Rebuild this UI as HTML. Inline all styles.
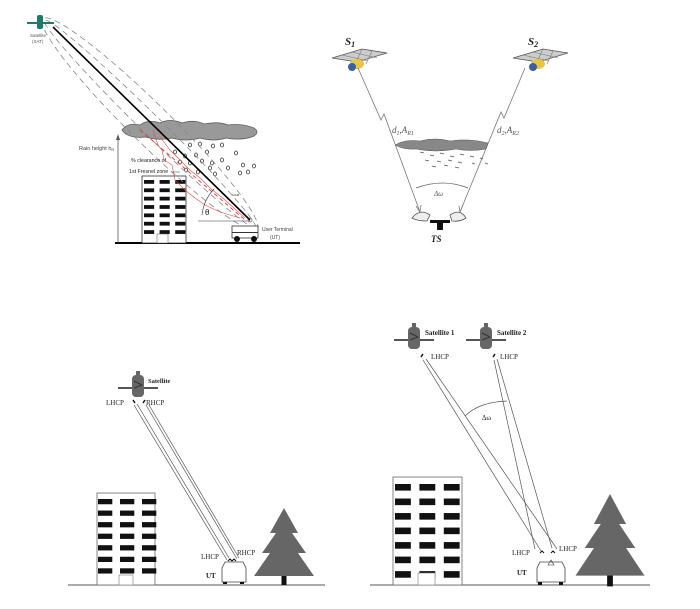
<!DOCTYPE html>
<html><head><meta charset="utf-8"><style>html,body{margin:0;padding:0;background:#fff}svg{display:block}</style></head>
<body>
<svg width="700" height="609" viewBox="0 0 700 609" xmlns="http://www.w3.org/2000/svg" font-family="Liberation Serif, serif">
<defs>
<g id="win3x7">
 <rect x="0" y="0" width="13" height="5"/><rect x="20" y="0" width="13" height="5"/><rect x="40" y="0" width="13" height="5"/>
 <rect x="0" y="11" width="13" height="5"/><rect x="20" y="11" width="13" height="5"/><rect x="40" y="11" width="13" height="5"/>
 <rect x="0" y="22" width="13" height="5"/><rect x="20" y="22" width="13" height="5"/><rect x="40" y="22" width="13" height="5"/>
 <rect x="0" y="33" width="13" height="5"/><rect x="20" y="33" width="13" height="5"/><rect x="40" y="33" width="13" height="5"/>
 <rect x="0" y="44" width="13" height="5"/><rect x="20" y="44" width="13" height="5"/><rect x="40" y="44" width="13" height="5"/>
 <rect x="0" y="55" width="13" height="5"/><rect x="20" y="55" width="13" height="5"/><rect x="40" y="55" width="13" height="5"/>
 <rect x="0" y="66" width="13" height="5"/><rect x="20" y="66" width="13" height="5"/><rect x="40" y="66" width="13" height="5"/>
</g>
<g id="gsat">
 <rect x="-20" y="14" width="40" height="2" fill="#555"/>
 <rect x="-6" y="2" width="12" height="22" rx="4" fill="#666"/>
 <rect x="-2" y="-2" width="4" height="5" fill="#666"/>
 <path d="M-4 8 l8 4 M-4 15 l8 -3" stroke="#333"/>
</g>
<g id="ssat">
 <polygon points="0,14 30,5 55,9 25,18" fill="#ccc" stroke="#555" stroke-width="0.8"/>
 <path d="M10 11 l26 6 M20 8 l25 6 M30 5 l-6 13 M40 7 l-6 13" stroke="#777" stroke-width="0.6"/>
 <ellipse cx="25" cy="20" rx="7" ry="5" fill="#e8c640"/>
 <circle cx="20" cy="23" r="4" fill="#3a5fa5"/>
</g>
<g id="tree">
 <rect x="-2.5" y="55" width="5" height="22" fill="#111"/>
 <polygon points="0,0 14,25 8,25 22,45 14,45 30,68 -30,68 -14,45 -22,45 -8,25 -14,25" fill="#666"/>
</g>
</defs>

<!-- ===== Quadrant 1 ===== -->
<line x1="115" y1="243" x2="300" y2="243" stroke="#000" stroke-width="2"/>
<line x1="118" y1="243" x2="118" y2="137" stroke="#555" stroke-width="0.8"/>
<polygon points="118,134 116,140 120,140" fill="#555"/>
<text x="79" y="150" font-family="Liberation Sans, sans-serif" font-size="5.5" fill="#444">Rain height h<tspan font-size="4" dy="1">R</tspan></text>
<!-- building -->
<rect x="142" y="176" width="44" height="67" fill="#fff" stroke="#333" stroke-width="0.8"/>
<g fill="#111" transform="translate(144,180) scale(0.78,0.76)"><use href="#win3x7"/></g>
<rect x="157" y="234" width="11" height="9" fill="#fff" stroke="#555" stroke-width="0.5"/>
<!-- cloud -->
<path d="M122 130 q6 -8 18 -5 q8 -6 20 -2 q10 -5 22 0 q12 -4 22 1 q14 -3 24 1 q14 -2 26 3 q6 4 0 8 q-12 5 -28 2 q-12 4 -26 0 q-14 4 -28 0 q-14 3 -26 -1 q-18 2 -24 -7z" fill="#999" stroke="#555" stroke-width="0.7"/>
<!-- rain -->
<g fill="none" stroke="#333" stroke-width="0.8">
 <ellipse cx="190" cy="145" rx="1.5" ry="2"/><ellipse cx="200" cy="144" rx="1.5" ry="2"/><ellipse cx="213" cy="146" rx="1.5" ry="2"/><ellipse cx="222" cy="145" rx="1.5" ry="2"/>
 <ellipse cx="175" cy="152" rx="1.5" ry="2"/><ellipse cx="185" cy="156" rx="1.5" ry="2"/><ellipse cx="196" cy="155" rx="1.5" ry="2"/><ellipse cx="207" cy="152" rx="1.5" ry="2"/><ellipse cx="236" cy="153" rx="1.5" ry="2"/>
 <ellipse cx="180" cy="162" rx="1.5" ry="2"/><ellipse cx="190" cy="163" rx="1.5" ry="2"/><ellipse cx="202" cy="161" rx="1.5" ry="2"/><ellipse cx="212" cy="163" rx="1.5" ry="2"/><ellipse cx="222" cy="160" rx="1.5" ry="2"/>
 <ellipse cx="186" cy="170" rx="1.5" ry="2"/><ellipse cx="198" cy="172" rx="1.5" ry="2"/><ellipse cx="210" cy="168" rx="1.5" ry="2"/><ellipse cx="228" cy="168" rx="1.5" ry="2"/><ellipse cx="243" cy="165" rx="1.5" ry="2"/>
 <ellipse cx="215" cy="174" rx="1.5" ry="2"/><ellipse cx="240" cy="173" rx="1.5" ry="2"/><ellipse cx="254" cy="166" rx="1.5" ry="2"/><ellipse cx="248" cy="172" rx="1.5" ry="2"/>
</g>
<!-- fresnel dashed ellipses -->
<g fill="none" stroke="#888" stroke-width="0.8" stroke-dasharray="6,4">
 <ellipse cx="150" cy="124" rx="150" ry="20" transform="rotate(44.5 150 124)"/>
 <ellipse cx="150" cy="124" rx="148" ry="10" transform="rotate(44.5 150 124)"/>
</g>
<line x1="53" y1="27" x2="250" y2="220" stroke="#000" stroke-width="1.6"/>
<line x1="140" y1="130" x2="245" y2="220" stroke="#e33" stroke-width="0.9" stroke-dasharray="4,3"/>
<polyline points="153,130 158,145 162,150 164,160 172,165 175,180 185,190 195,198 205,205 220,212 240,218" fill="none" stroke="#e44" stroke-width="0.6"/>
<polyline points="160,137 170,150 178,158 190,170 200,178 210,188 225,200 245,218" fill="none" stroke="#e44" stroke-width="0.6"/>
<path d="M202 215 a45 45 0 0 1 12 -26" fill="none" stroke="#333" stroke-width="0.6"/>
<line x1="198" y1="221" x2="250" y2="221" stroke="#333" stroke-width="0.5"/>
<text x="205" y="215" font-family="Liberation Sans, sans-serif" font-size="8" fill="#222">θ</text>
<text x="232" y="196" font-family="Liberation Sans, sans-serif" font-size="3.5" fill="#333">ω<tspan font-size="2.5">3dB</tspan></text>
<text x="131" y="162" font-family="Liberation Sans, sans-serif" font-size="5.3" fill="#222">% clearance of</text>
<text x="129" y="173" font-family="Liberation Sans, sans-serif" font-size="5.3" fill="#222">1st Fresnel zone</text>
<line x1="172" y1="172" x2="180" y2="172" stroke="#333" stroke-width="0.5"/>
<!-- car -->
<rect x="232" y="226" width="26" height="12" fill="#fff" stroke="#333" stroke-width="0.8"/>
<rect x="232" y="232" width="26" height="1" fill="#333"/>
<circle cx="237" cy="239" r="3" fill="#111"/><circle cx="254" cy="239" r="3" fill="#111"/>
<circle cx="250" cy="220" r="2" fill="none" stroke="#333" stroke-width="0.6"/>
<text x="262" y="231" font-family="Liberation Sans, sans-serif" font-size="5" fill="#444">User Terminal</text>
<text x="270" y="239" font-family="Liberation Sans, sans-serif" font-size="5" fill="#444">(UT)</text>
<!-- satellite SAT -->
<rect x="27" y="22" width="27" height="2" fill="#1f7a6a"/>
<rect x="37" y="15" width="6" height="14" rx="2" fill="#1f7a6a"/>
<text x="30" y="37" font-family="Liberation Sans, sans-serif" font-size="4.5" fill="#555">Satellite</text>
<text x="32" y="43" font-family="Liberation Sans, sans-serif" font-size="4.5" fill="#555">(SAT)</text>

<!-- ===== Quadrant 2 ===== -->
<use href="#ssat" x="332" y="44"/>
<use href="#ssat" x="513" y="44"/>
<text x="345" y="45" font-size="11" font-style="italic" font-weight="bold" fill="#222">S<tspan font-size="8" dy="2">1</tspan></text>
<text x="528" y="45" font-size="11" font-style="italic" font-weight="bold" fill="#222">S<tspan font-size="8" dy="2">2</tspan></text>
<polyline points="358,68 381,120 384,114 420,212" fill="none" stroke="#777" stroke-width="0.8"/>
<polyline points="525,68 504,118 501,112 460,212" fill="none" stroke="#777" stroke-width="0.8"/>
<path d="M416 206 l4 6 l1 -7 M463 205 l-3 7 l-1 -6" fill="none" stroke="#777" stroke-width="0.8"/>
<text x="392" y="133" font-size="9" font-style="italic" fill="#555">d<tspan font-size="6" dy="2">1</tspan><tspan dy="-2">,A</tspan><tspan font-size="6" dy="2">R1</tspan></text>
<text x="497" y="133" font-size="9" font-style="italic" fill="#555">d<tspan font-size="6" dy="2">2</tspan><tspan dy="-2">,A</tspan><tspan font-size="6" dy="2">R2</tspan></text>
<path d="M395 145 q10 -6 25 -4 q15 -4 30 0 q18 -3 38 2 l-2 6 q-15 3 -30 0 q-20 4 -40 0 q-12 1 -21 -4z" fill="#888" stroke="#555" stroke-width="0.5"/>
<g stroke="#555" stroke-width="0.9">
 <path d="M420 152 l4 1 M430 155 l4 1 M440 153 l4 1 M450 156 l4 1 M460 154 l4 1 M470 156 l4 1 M425 160 l4 1 M437 161 l4 1 M448 160 l4 1 M458 162 l4 1 M472 163 l3 1 M432 166 l4 1 M444 165 l4 1 M455 167 l4 1 M480 158 l3 1 M485 163 l3 1"/>
</g>
<path d="M416 188 q27 -10 52 0" fill="none" stroke="#666" stroke-width="0.8"/>
<text x="434" y="196" font-size="7" font-style="italic" fill="#555">Δω</text>
<path d="M412 218 q8 -10 18 -3 l-3 6 q-10 0 -15 -3z M450 215 q10 -7 16 3 q-6 4 -14 3z" fill="#eee" stroke="#555" stroke-width="0.8"/>
<rect x="430" y="220" width="20" height="3" fill="#111"/>
<rect x="437" y="220" width="6" height="10" fill="#111"/>
<text x="431" y="242" font-size="9" font-style="italic" font-weight="bold" fill="#222">TS</text>

<!-- ===== Quadrant 3 ===== -->
<line x1="68" y1="585" x2="325" y2="585" stroke="#555" stroke-width="1"/>
<rect x="97" y="493" width="58" height="92" fill="#fff" stroke="#666" stroke-width="0.8"/>
<g fill="#111" transform="translate(98,499)"><use href="#win3x7" transform="scale(1.1,1.05)"/></g>
<rect x="119" y="575" width="14" height="10" fill="#fff" stroke="#777" stroke-width="0.6"/>
<use href="#gsat" x="138" y="373"/>
<text x="148" y="383" font-size="6.5" font-weight="bold" fill="#222">Satellite</text>
<text x="106" y="405" font-size="7" fill="#222">LHCP</text>
<text x="146" y="405" font-size="7" fill="#222">RHCP</text>
<path d="M133 400 l2 3 M145 400 l-2 3" stroke="#111" stroke-width="1.5"/>
<g stroke="#555" stroke-width="0.7" fill="none">
 <line x1="134" y1="405" x2="227" y2="560"/><line x1="137" y1="404" x2="229" y2="558"/>
 <line x1="146" y1="405" x2="237" y2="559"/><line x1="149" y1="405" x2="239" y2="558"/>
</g>
<text x="201" y="559" font-size="7" fill="#222">LHCP</text>
<text x="237" y="555" font-size="7" fill="#222">RHCP</text>
<path d="M228 561 l2 -2 l2 2 l2 -2 l2 2" fill="none" stroke="#111"/>
<path d="M222 582 l0 -14 l3 -6 l18 0 l3 6 l0 14z" fill="#fff" stroke="#444" stroke-width="0.8"/>
<rect x="223" y="582" width="4" height="2" fill="#111"/><rect x="240" y="582" width="4" height="2" fill="#111"/>
<text x="206" y="578" font-size="7" font-weight="bold" fill="#222">UT</text>
<use href="#tree" x="284" y="508"/>

<!-- ===== Quadrant 4 ===== -->
<line x1="370" y1="585" x2="650" y2="585" stroke="#555" stroke-width="1"/>
<rect x="393" y="477" width="69" height="108" fill="#fff" stroke="#666" stroke-width="0.8"/>
<g fill="#111" transform="translate(395,484) scale(1.22,1.32)"><use href="#win3x7"/></g>
<rect x="418" y="573" width="17" height="12" fill="#fff" stroke="#777" stroke-width="0.6"/>
<use href="#gsat" x="414" y="325"/>
<use href="#gsat" x="486" y="325"/>
<text x="425" y="335" font-size="7" font-weight="bold" fill="#222">Satellite 1</text>
<text x="497" y="335" font-size="7" font-weight="bold" fill="#222">Satellite 2</text>
<text x="431" y="359" font-size="7" fill="#222">LHCP</text>
<text x="500" y="359" font-size="7" fill="#222">LHCP</text>
<path d="M421 357 l2 -3 M493 357 l2 -3" stroke="#111" stroke-width="1.5"/>
<g stroke="#555" stroke-width="0.7" fill="none">
 <line x1="423" y1="360" x2="541" y2="551"/><line x1="426" y1="359" x2="557" y2="549"/>
 <line x1="494" y1="360" x2="535" y2="549"/><line x1="497" y1="359" x2="552" y2="548"/>
</g>
<path d="M465 416 q14 -14 42 -15" fill="none" stroke="#555" stroke-width="0.7"/>
<text x="482" y="420" font-size="7" fill="#222">Δω</text>
<text x="512" y="555" font-size="7" fill="#222">LHCP</text>
<text x="559" y="551" font-size="7" fill="#222">LHCP</text>
<path d="M540 553 l2 -2 l2 2 M551 553 l2 -2 l2 2" fill="none" stroke="#111"/>
<path d="M537 582 l0 -14 l3 -6 l22 0 l3 6 l0 14z" fill="#fff" stroke="#444" stroke-width="0.8"/>
<path d="M548 565 l3 -5 l3 5z" fill="none" stroke="#333" stroke-width="0.6"/>
<rect x="538" y="582" width="4" height="3" fill="#111"/><rect x="559" y="582" width="4" height="3" fill="#111"/>
<text x="517" y="575" font-size="7" font-weight="bold" fill="#222">UT</text>
<use href="#tree" x="610" y="494" transform="translate(610 494) scale(1.15 1.2) translate(-610 -494)"/>
</svg>
</body></html>
